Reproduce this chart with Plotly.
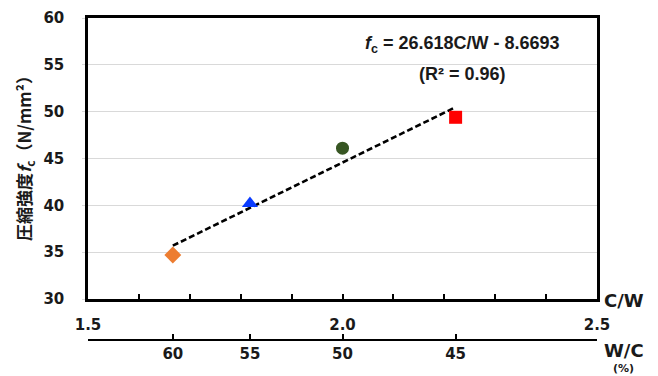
import plotly.graph_objects as go

# Data
cw_values = [100/60, 100/55, 100/50, 100/45]        # C/W
fc_values = [34.7, 40.2, 46.1, 49.4]                # N/mm2
wc_labels = ["60", "55", "50", "45"]                # W/C (%)
wc_positions = [100/60, 100/55, 100/50, 100/45]
marker_symbols = ["diamond", "triangle-up", "circle", "square"]
marker_colors = ["#ED7D31", "#0A3CFF", "#375623", "#FF0000"]
slope, intercept = 26.618, -8.6693
x_ticks = [1.5, 2.0, 2.5]
x_ticklabels = ["1.5", "2.0", "2.5"]
y_ticks = [30, 35, 40, 45, 50, 55, 60]

fit_x = [cw_values[0], cw_values[-1]]
fit_y = [slope * v + intercept for v in fit_x]

fig = go.Figure()
fig.add_trace(go.Scatter(x=fit_x, y=fit_y, mode="lines",
                         line=dict(color="black", width=2.6, dash="6px,3px"),
                         hoverinfo="skip", showlegend=False))
for x, y, s, c in zip(cw_values, fc_values, marker_symbols, marker_colors):
    fig.add_trace(go.Scatter(x=[x], y=[y], mode="markers",
                             marker=dict(symbol=s, color=c, size=13 if s != "triangle-up" else 14,
                                         line=dict(width=0)),
                             showlegend=False))
# invisible trace to activate the secondary W/C axis
fig.add_trace(go.Scatter(x=wc_positions, y=fc_values, xaxis="x2", mode="markers",
                         marker=dict(opacity=0), hoverinfo="skip", showlegend=False))

tick_font = dict(family="DejaVu Sans", size=15, color="#1a1a1a")

# page has an 8px body margin: figure is 650x368 placed at (8, 8)
fig.update_layout(
    width=650, height=368,
    margin=dict(l=80, r=61, t=10, b=36),
    paper_bgcolor="white", plot_bgcolor="white",
    xaxis=dict(range=[1.5, 2.5], tickmode="array", tickvals=x_ticks,
               ticktext=["<b>%s</b>" % t for t in x_ticklabels],
               ticks="inside", ticklen=5, tickwidth=1.5, tickcolor="black",
               minor=dict(dtick=0.1, ticks="inside", ticklen=5, tickwidth=1.5, tickcolor="black"),
               showline=True, linecolor="black", linewidth=2.5, mirror=True,
               showgrid=False, zeroline=False, tickfont=tick_font,
               ticklabelstandoff=10, anchor="y", fixedrange=True, automargin=False),
    xaxis2=dict(range=[1.5, 2.5], overlaying="x", anchor="free", position=0, side="bottom",
                tickmode="array", tickvals=[1.5] + wc_positions + [2.5],
                ticktext=[""] + ["<b>%s</b>" % t for t in wc_labels] + [""],
                ticks="inside", ticklen=5, tickwidth=1.5, tickcolor="black",
                showline=True, linecolor="black", linewidth=2, showgrid=False,
                zeroline=False, tickfont=tick_font, fixedrange=True, automargin=False),
    yaxis=dict(range=[30, 60], domain=[41/322, 1], tickmode="array", tickvals=y_ticks,
               ticktext=["<b>%d</b>" % v for v in y_ticks],
               showline=True, linecolor="black", linewidth=2.5, mirror=True,
               showgrid=True, gridcolor="#d9d9d9", gridwidth=1, zeroline=False,
               ticks="outside", ticklen=3, tickcolor="#d9d9d9",
               tickfont=tick_font, ticklabelstandoff=15, automargin=False,
               fixedrange=True),
    annotations=[
        dict(x=(24 - 88) / 509, y=(340 - 154) / 322, xref="paper", yref="paper",
             textangle=-90, showarrow=False, xanchor="center", yanchor="middle",
             text="<b>圧縮強度<i>f</i><sub>c</sub>（N/mm²）</b>",
             font=dict(family="Noto Sans CJK JP", size=17, color="#1a1a1a")),
        dict(x=2.235, y=57.2, xref="x", yref="y", showarrow=False,
             text="<b><i>f</i><sub>c</sub> = 26.618C/W - 8.6693</b>",
             font=dict(family="Liberation Sans", size=18, color="#1a1a1a")),
        dict(x=2.235, y=54.0, xref="x", yref="y", showarrow=False,
             text="<b>(R² = 0.96)</b>",
             font=dict(family="Liberation Sans", size=18, color="#1a1a1a")),
        dict(x=(602 - 88) / 509, y=(340 - 300) / 322, xref="paper", yref="paper",
             xanchor="left", yanchor="middle", showarrow=False, text="<b>C/W</b>",
             font=dict(family="DejaVu Sans", size=18, color="#1a1a1a")),
        dict(x=(602 - 88) / 509, y=(340 - 351) / 322, xref="paper", yref="paper",
             xanchor="left", yanchor="middle", showarrow=False, text="<b>W/C</b>",
             font=dict(family="DejaVu Sans", size=18, color="#1a1a1a")),
        dict(x=(623 - 88) / 509, y=(340 - 368) / 322, xref="paper", yref="paper",
             xanchor="center", yanchor="middle", showarrow=False, text="<b>(%)</b>",
             font=dict(family="DejaVu Sans", size=11, color="#1a1a1a")),
    ],
)

fig.write_html("out.html")
